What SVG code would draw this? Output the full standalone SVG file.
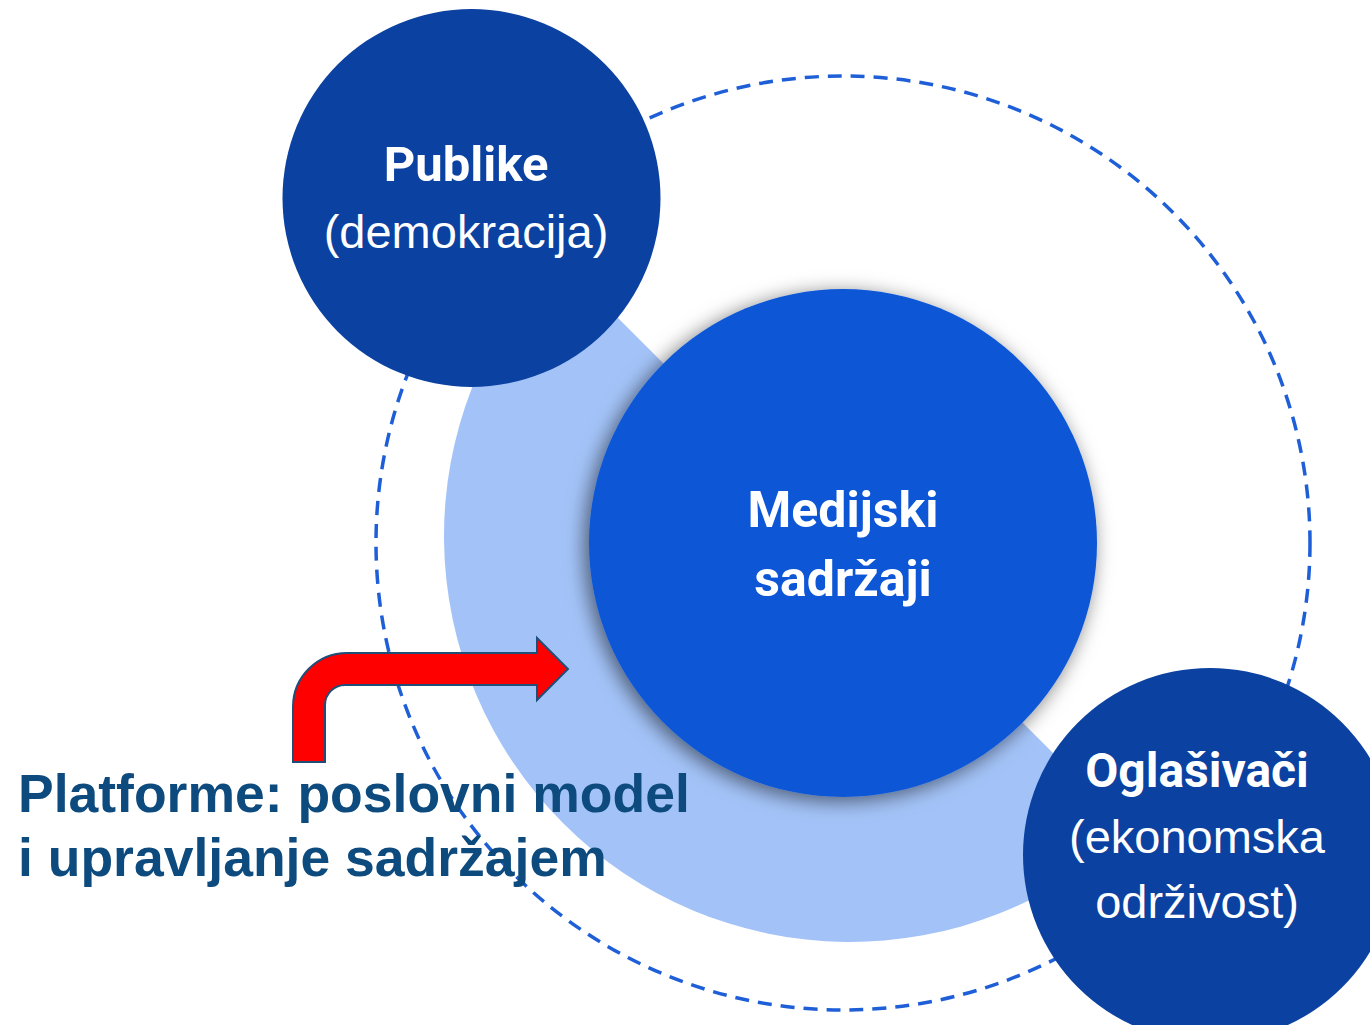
<svg xmlns="http://www.w3.org/2000/svg" width="1370" height="1025" viewBox="0 0 1370 1025">
<style>
.outer{fill:#0B41A0}
.title{font-family:Roboto,"Liberation Sans",sans-serif;font-weight:700;fill:#ffffff;text-anchor:middle}
.sub{font-family:"Liberation Sans",Arial,sans-serif;font-weight:400;fill:#ffffff;text-anchor:middle}
.plat{font-family:"Liberation Sans",Arial,sans-serif;font-weight:700;fill:#0D4A7E;font-size:53.5px}
</style>
<defs>
<filter id="sh" x="-20%" y="-20%" width="140%" height="140%">
<feDropShadow dx="-4" dy="4" stdDeviation="10" flood-color="#000" flood-opacity="0.55"/>
</filter>
</defs>
<rect width="1370" height="1025" fill="#ffffff"/>
<g id="ring">
<circle cx="843" cy="543" r="467" fill="none" stroke="#1E5FD8" stroke-width="3.5" stroke-dasharray="14 9"/>
</g>
<g id="halo">
<path d="M556,256 A406,406 0 0 0 1130,830 Z" fill="#A3C3F8"/>
</g>
<g id="medijski">
<circle cx="843" cy="543" r="254" fill="#0E57D5" filter="url(#sh)"/>
<text class="title" x="843" y="527" font-size="50">Medijski</text>
<text class="title" x="843" y="596" font-size="50">sadržaji</text>
</g>
<g id="publike">
<circle class="outer" cx="471.5" cy="198" r="189"/>
<text class="title" x="466" y="181" font-size="49">Publike</text>
<text class="sub" x="466" y="248" font-size="47">(demokracija)</text>
</g>
<g id="oglasivaci">
<circle class="outer" cx="1210" cy="855" r="187"/>
<text class="title" x="1197" y="787" font-size="48">Oglašivači</text>
<text class="sub" x="1197" y="853" font-size="47">(ekonomska</text>
<text class="sub" x="1197" y="918" font-size="47">održivost)</text>
</g>
<g id="connectors">
<path d="M293,762 L293,707 A54,54 0 0 1 347,653 L537,653 L537,638 L568,669 L537,700 L537,685 L345,685 A20,20 0 0 0 325,705 L325,762 Z" fill="#FF0000" stroke="#1F4E79" stroke-width="2" stroke-linejoin="miter"/>
</g>
<g id="platforme">
<text class="plat" x="18" y="812">Platforme: poslovni model</text>
<text class="plat" x="18" y="876">i upravljanje sadržajem</text>
</g>
</svg>
